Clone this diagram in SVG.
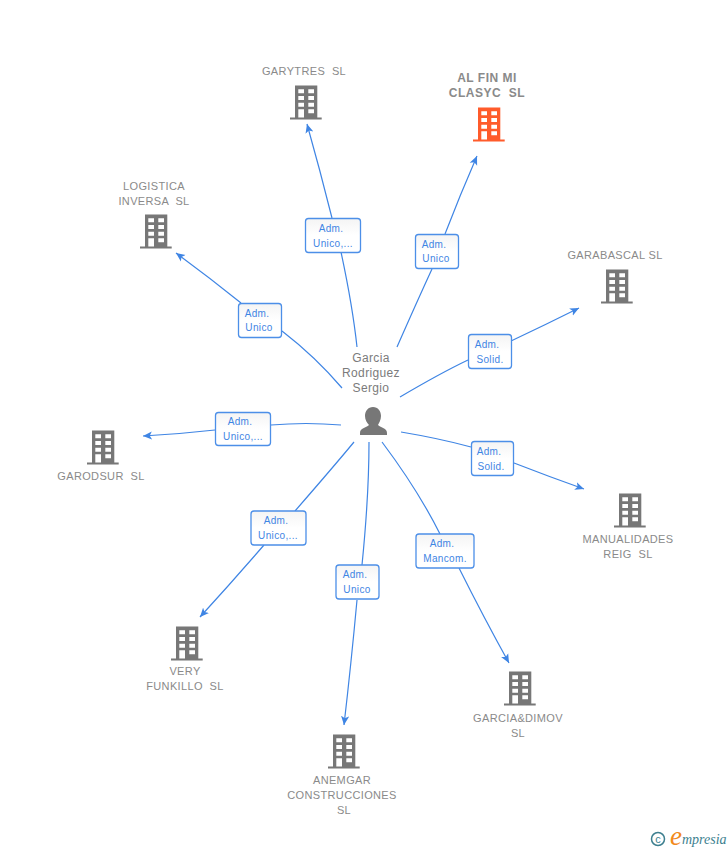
<svg xmlns="http://www.w3.org/2000/svg" width="728" height="850" viewBox="0 0 728 850">
<style>
text{font-family:"Liberation Sans",Arial,sans-serif;white-space:pre}
.n{font-size:11px;fill:#8a8a8a;text-anchor:middle;letter-spacing:.35px}
.h{font-size:12px;font-weight:bold;letter-spacing:.5px}
.p{font-size:12px;fill:#7b7b7b;text-anchor:middle;letter-spacing:.35px}
.c{fill:none;stroke:#3f85e4;stroke-width:1.2}
.b{fill:url(#g);stroke:#4c8fe8;stroke-width:1.3}
.l{font-size:10px;fill:#3f85e4;text-anchor:middle;letter-spacing:.35px}
.s{font-family:"Liberation Serif",serif;font-style:italic}
</style>
<defs>
<linearGradient id="g" x1="0" y1="0" x2="0" y2="1"><stop offset="0" stop-color="#f4f4f4"/><stop offset=".5" stop-color="#fff"/></linearGradient>
<marker id="a" viewBox="0 0 10 10" refX="10" refY="5" markerWidth="9" markerHeight="9" markerUnits="userSpaceOnUse" orient="auto"><path d="M0 0.500L10 5L0 9.500L2.500 5Z" fill="#3f85e4"/></marker>
<path id="bld" fill-rule="evenodd" d="M-11 .5H11.300V32.500H15.700V34.500H-16V32.500H-11ZM-7.700 4.300V8.300H-2V4.300ZM2.300 4.300V8.300H8V4.300ZM-7.700 11V15H-2V11ZM2.300 11V15H8V11ZM-7.700 17.700V21.700H-2V17.700ZM2.300 17.700V21.700H8V17.700ZM-7.700 24.300V32.500H-2V24.300ZM2.300 24.300V28.300H8V24.300Z"/>
</defs>
<g id="connectors">
<path class="c" marker-end="url(#a)" d="M357 347C353 310 347 280 341 252M332 218Q320 170 307 124"/>
<path class="c" marker-end="url(#a)" d="M397 347C408 322 420 295 432 269M445 234Q460 195 477 156"/>
<path class="c" marker-end="url(#a)" d="M342 388C325 368 304 348 282 331M241 303Q210 278 176 253"/>
<path class="c" marker-end="url(#a)" d="M400 397C422 384 445 371 468 360M511 341Q545 325 579 308"/>
<path class="c" marker-end="url(#a)" d="M341 425C318 423 294 423 271 425M215 430Q180 434 143 436"/>
<path class="c" marker-end="url(#a)" d="M401 432C425 436 449 441 471 447M514 463Q550 477 584 489"/>
<path class="c" marker-end="url(#a)" d="M354 442C335 465 315 488 295 511M264 545Q232 582 200 617"/>
<path class="c" marker-end="url(#a)" d="M369 442C369 485 366 525 362 565M357 600Q351 665 344 725"/>
<path class="c" marker-end="url(#a)" d="M382 442C403 470 424 502 440 534M459 568Q484 618 509 663"/>
</g>
<g id="labels">
<g><rect class="b" x="305.500" y="218.500" width="55" height="34" rx="3"/><text class="l" x="331" y="232">Adm.</text><text class="l" x="333" y="247">Unico,...</text></g>
<g><rect class="b" x="415.500" y="234.500" width="43" height="34" rx="3"/><text class="l" x="434" y="248">Adm.</text><text class="l" x="436" y="262">Unico</text></g>
<g><rect class="b" x="238.500" y="303.500" width="43" height="34" rx="3"/><text class="l" x="257" y="317">Adm.</text><text class="l" x="259" y="331">Unico</text></g>
<g><rect class="b" x="468.500" y="334.500" width="43" height="34" rx="3"/><text class="l" x="487" y="348">Adm.</text><text class="l" x="490" y="363">Solid.</text></g>
<g><rect class="b" x="215.500" y="412.500" width="55" height="33" rx="3"/><text class="l" x="240" y="425">Adm.</text><text class="l" x="243" y="440">Unico,...</text></g>
<g><rect class="b" x="471.500" y="441.500" width="42" height="34" rx="3"/><text class="l" x="489" y="455">Adm.</text><text class="l" x="491" y="470">Solid.</text></g>
<g><rect class="b" x="251" y="511" width="55" height="34" rx="3"/><text class="l" x="276" y="524">Adm.</text><text class="l" x="278" y="539">Unico,...</text></g>
<g><rect class="b" x="336" y="565" width="43" height="34" rx="3"/><text class="l" x="355" y="578">Adm.</text><text class="l" x="357" y="593">Unico</text></g>
<g><rect class="b" x="416" y="534" width="58" height="34" rx="3"/><text class="l" x="442" y="547">Adm.</text><text class="l" x="445" y="562">Mancom.</text></g>
</g>
<g id="person"><text class="p" x="371" y="362">Garcia</text><text class="p" x="371" y="377">Rodriguez</text><text class="p" x="371" y="392">Sergio</text>
<path fill="#777" d="M373 407C378 407 381 411 381 416C381 420 379 423 378 425C381 428 387 428 387 433V435H360V433C360 428 366 428 369 425C367 423 365 420 365 416C365 411 368 407 373 407Z"/></g>
<g id="garytres"><use href="#bld" x="306" y="85" fill="#777"/><text class="n" x="304" y="75">GARYTRES  SL</text></g>
<g id="alfinmi"><use href="#bld" x="489" y="107" fill="#ff5b2b"/><text class="n h" x="487" y="82">AL FIN MI</text><text class="n h" x="487" y="97">CLASYC  SL</text></g>
<g id="logistica"><use href="#bld" x="156" y="214" fill="#777"/><text class="n" x="154" y="190">LOGISTICA</text><text class="n" x="154" y="205">INVERSA  SL</text></g>
<g id="garabascal"><use href="#bld" x="617" y="269" fill="#777"/><text class="n" x="615" y="259">GARABASCAL SL</text></g>
<g id="garodsur"><use href="#bld" x="103" y="430" fill="#777"/><text class="n" x="101" y="480">GARODSUR  SL</text></g>
<g id="manualidades"><use href="#bld" x="630" y="493" fill="#777"/><text class="n" x="628" y="543">MANUALIDADES</text><text class="n" x="628" y="558">REIG  SL</text></g>
<g id="veryfunkillo"><use href="#bld" x="187" y="626" fill="#777"/><text class="n" x="185" y="675">VERY</text><text class="n" x="185" y="690">FUNKILLO  SL</text></g>
<g id="garciadimov"><use href="#bld" x="520" y="671" fill="#777"/><text class="n" x="518" y="722">GARCIA&amp;DIMOV</text><text class="n" x="518" y="737">SL</text></g>
<g id="anemgar"><use href="#bld" x="344" y="734" fill="#777"/><text class="n" x="342" y="784">ANEMGAR</text><text class="n" x="342" y="799">CONSTRUCCIONES</text><text class="n" x="344" y="814">SL</text></g>
<g id="logo"><circle cx="658" cy="839" r="6.500" fill="none" stroke="#3d7f8f" stroke-width="1.500"/><text x="658" y="842.500" font-size="11" fill="#3d7f8f" text-anchor="middle">c</text><text class="s" x="670" y="845"><tspan font-size="27" fill="#f28a1c">e</tspan><tspan font-size="14" fill="#3d7f8f" dy="-1">mpresia</tspan></text></g>
</svg>
